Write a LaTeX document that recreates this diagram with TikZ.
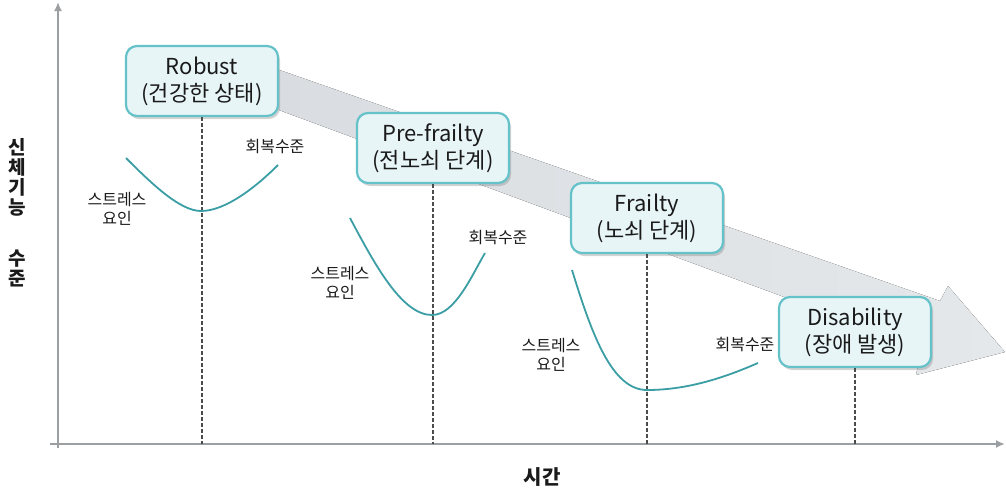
\documentclass[tikz,border=0pt]{standalone}
\usepackage{fontspec}
\setmainfont{Noto Sans CJK KR}
\usetikzlibrary{shadows,arrows.meta}
\definecolor{boxborder}{HTML}{66C2C9}
\definecolor{boxfill}{HTML}{E7F5F7}
\definecolor{curvecol}{HTML}{3A9EA4}
\definecolor{axisgray}{HTML}{9C9FA2}
\definecolor{bandL}{HTML}{D9DDE1}
\definecolor{bandR}{HTML}{E5E8EA}
\definecolor{ink}{HTML}{1A1A1A}
\begin{document}
\begin{tikzpicture}[x=1pt,y=-1pt,
  stage/.style={draw=boxborder, line width=2.2pt, fill=boxfill, rounded corners=11pt,
    minimum width=152pt, minimum height=70pt, align=center, inner sep=4pt,
    font=\fontsize{22}{27}\selectfont, text=ink,
    drop shadow={shadow xshift=2pt, shadow yshift=-3pt, opacity=0.35, fill=gray}},
  lbl/.style={font=\fontsize{16}{19}\selectfont, align=center, text=ink, inner sep=0pt},
  axislbl/.style={font=\bfseries\fontsize{20}{20}\selectfont, align=center, text=ink, inner sep=0pt},
  guide/.style={dash pattern=on 4pt off 2pt, line width=1.2pt, black!70},
  stresscurve/.style={draw=curvecol, line width=1.8pt},
  axisline/.style={draw=axisgray, line width=1.8pt, -{Latex[length=9pt,width=8pt]}}]
\useasboundingbox (0,0) rectangle (1006,496);

% big gray trend arrow
\fill[left color=bandL, right color=bandR]
  (268,66) -- (940,301) -- (948,286) -- (1005,352) -- (916,375) -- (922,348) -- (268,106) -- cycle;

% axes
\coordinate (O) at (58,444);
\coordinate (ytop) at (58,2);
\coordinate (xend) at (1005,444);
\draw[axisline] (58,448) -- (ytop);
\draw[axisline] (50,444) -- (xend);

% stage boxes
\node[stage] (robust) at (202,81) {Robust\\(건강한 상태)};
\node[stage] (pre) at (433,148) {Pre-frailty\\(전노쇠 단계)};
\node[stage] (frail) at (647,218) {Frailty\\(노쇠 단계)};
\node[stage] (dis) at (855,332) {Disability\\(장애 발생)};

% dashed guides
\draw[guide] (robust.south) -- (robust.south |- O);
\draw[guide] (pre.south) -- (pre.south |- O);
\draw[guide] (frail.south) -- (frail.south |- O);
\draw[guide] (dis.south) -- (dis.south |- O);

% stress-recovery curves
\draw[stresscurve] (126,158) .. controls (152,184) and (180,211) .. (201,211)
  .. controls (225,211) and (255,188) .. (278,165);
\draw[stresscurve] (350,218) .. controls (375,265) and (402,315) .. (432,315)
  .. controls (455,315) and (472,275) .. (485,253);
\draw[stresscurve] (572,270) .. controls (592,335) and (612,390) .. (647,390)
  .. controls (690,390) and (728,376) .. (758,363);

% labels
\node[lbl] (rec1) at (275,147) {회복수준};
\node[lbl] (st1) at (117,209) {스트레스\\요인};
\node[lbl] (rec2) at (498,238) {회복수준};
\node[lbl] (st2) at (340,283) {스트레스\\요인};
\node[lbl] (rec3) at (745,344) {회복수준};
\node[lbl] (st3) at (551,355) {스트레스\\요인};

% axis titles
\node[axislbl, font=\bfseries\fontsize{19}{20}\selectfont] (ylab) at (17,213) {신\\체\\기\\능\\[31pt]수\\준};
\node[axislbl] (xlab) at (542,477) {시간};
\end{tikzpicture}
\end{document}
